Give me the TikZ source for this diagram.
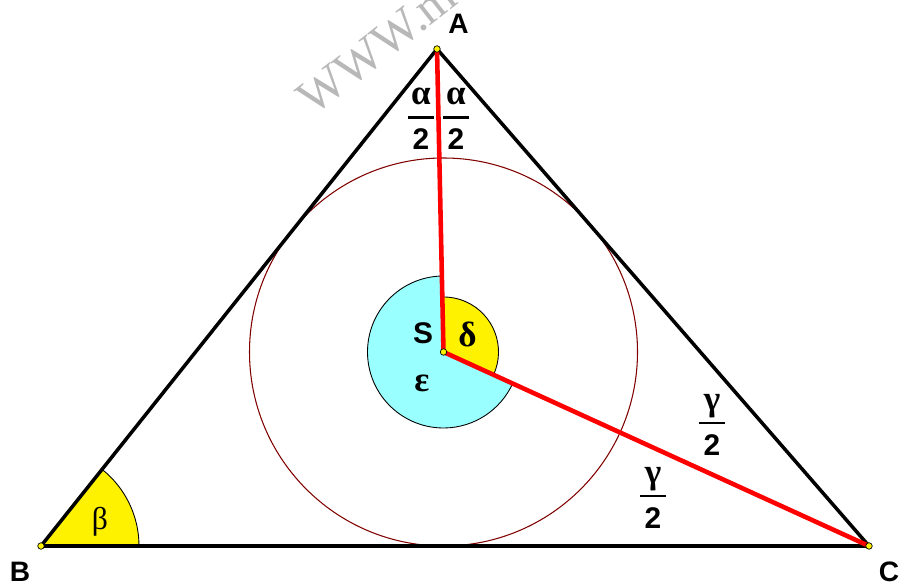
\documentclass[tikz,border=0pt]{standalone}
\usepackage{fontspec}
\setmainfont{Liberation Sans}
\newfontfamily\grk{Liberation Serif}
\usetikzlibrary{calc}

\definecolor{incol}{RGB}{128,0,0}
\definecolor{epscol}{RGB}{153,255,255}

\newcommand{\halb}[1]{{\grk\bfseries\fontsize{20}{20}\selectfont #1}\\[-6.5pt]\rule{15pt}{1.5pt}\\[3.3pt]2}

\begin{document}
\begin{tikzpicture}[
    side/.style={line width=2pt, line join=round},
    bis/.style={red, line width=2.6pt},
    incirc/.style={draw=incol, line width=0.6pt},
    wedge/.style={draw=black, line width=0.5pt},
    pt/.style={circle, draw=black, fill=yellow, line width=0.4pt,
               inner sep=0pt, minimum size=1.3mm},
    vlab/.style={font=\fontsize{16}{18}\selectfont\bfseries},
    frac/.style={align=center, inner sep=0pt,
                 font=\fontsize{17}{14.5}\selectfont\bfseries},
    grklab/.style={font=\fontsize{20}{22}\selectfont\grk\bfseries},
]
\useasboundingbox (0,0) rectangle (17.98,11.64);

% --- Watermark ---
\node[font=\fontsize{28}{30}\selectfont\grk, text=black!28, rotate=38,
      anchor=base west] (wm) at (6.18,9.23) {WWW.m};

% --- Vertices and incentre ---
\coordinate (A) at (8.74,10.66);
\coordinate (B) at (0.82,0.72);
\coordinate (C) at (17.38,0.72);
\coordinate (S) at (8.87,4.60);

% --- Incircle ---
\draw[incirc] (S) circle[radius=3.88];

% --- Angles ---
\filldraw[wedge, fill=yellow] (B) -- ++(0:1.96)
  arc[start angle=0, end angle=51.4, radius=1.96] -- cycle;
\filldraw[wedge, fill=epscol] (S) -- ++(91.2:1.52)
  arc[start angle=91.2, end angle=335.5, radius=1.52] -- cycle;
\filldraw[wedge, fill=yellow] (S) -- ++(-24.5:1.1)
  arc[start angle=-24.5, end angle=91.2, radius=1.1] -- cycle;

% --- Triangle and bisectors ---
\draw[side] (A) -- (B) -- (C) -- cycle;
\draw[bis] (S) -- (A);
\draw[bis] (S) -- (C);

\node[pt] (ptA) at (A) {};
\node[pt] (ptB) at (B) {};
\node[pt] (ptC) at (C) {};
\node[pt] (ptS) at (S) {};

% --- Labels ---
\node[vlab] (labA) at (9.17,11.16) {A};
\node[vlab] (labB) at (0.40,0.20) {B};
\node[vlab] (labC) at (17.78,0.20) {C};
\node[font=\fontsize{17}{19}\selectfont\bfseries] (labS) at (8.46,4.98) {S};
\node[grklab] (labD) at (9.35,4.96) {δ};
\node[grklab] (labE) at (8.44,3.98) {ε};
\node[grklab, font=\fontsize{18}{20}\selectfont\grk\mdseries] (labB2) at (2.00,1.20) {β};

\node[frac] (fa1) at (8.42,9.26) {\halb{α}};
\node[frac] (fa2) at (9.12,9.26) {\halb{α}};
\node[frac] (fg1) at (14.24,3.14) {\halb{γ}};
\node[frac] (fg2) at (13.06,1.68) {\halb{γ}};

\end{tikzpicture}
\end{document}
